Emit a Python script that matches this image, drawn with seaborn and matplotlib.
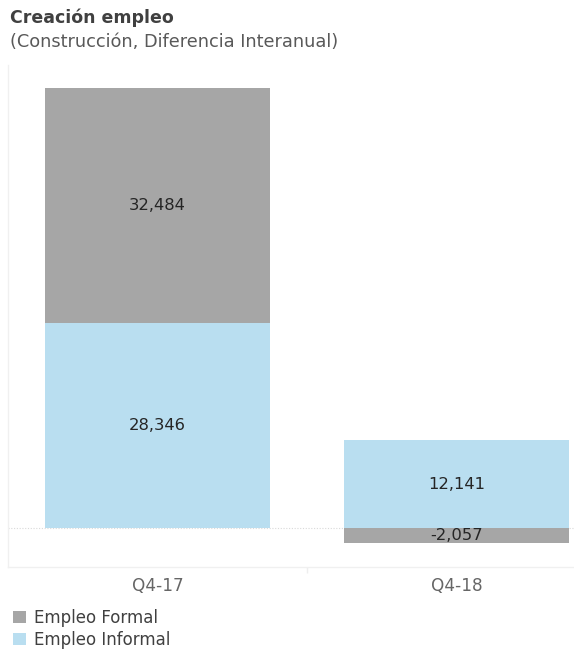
import numpy as np
import pandas as pd
import matplotlib
matplotlib.use("Agg")
import matplotlib.pyplot as plt
import seaborn as sns
from matplotlib.patches import Patch

# Year-over-year change in construction employment
categories = ["Q4-17", "Q4-18"]
formal = [32484, -2057]
informal = [28346, 12141]
series_names = ["Empleo Formal", "Empleo Informal"]

COL_FORMAL = "#a6a6a6"
COL_INFORMAL = "#b9def0"

sns.set_theme(style="white")
plt.rcParams["font.family"] = ["DejaVu Sans"]

fig = plt.figure(figsize=(5.74, 6.52), dpi=100)
W, H = 574, 652
ax = fig.add_axes([8 / W, 1 - 567 / H, 598 / W, (567 - 65) / H])

formal_arr = np.array(formal, dtype=float)
informal_arr = np.array(informal, dtype=float)
# Positive formal values stack on top of informal; negative ones hang below zero
formal_top = np.where(formal_arr > 0, informal_arr + formal_arr, formal_arr)
formal_base = np.where(formal_arr > 0, informal_arr, 0.0)

df_formal = pd.DataFrame({"cat": categories, "val": formal_top})
df_informal = pd.DataFrame({"cat": categories, "val": informal_arr})

sns.barplot(data=df_formal, x="cat", y="val", color=COL_FORMAL, saturation=1,
            width=0.75, ax=ax, errorbar=None, linewidth=0)
sns.barplot(data=df_informal, x="cat", y="val", color=COL_INFORMAL, saturation=1,
            width=0.75, ax=ax, errorbar=None, linewidth=0)

ax.set_xlim(-0.5, 1.5)
ax.set_ylim(-5390, 64030)

# Zero reference line
ax.axhline(0, color="#d9d9d9", lw=0.8, ls=(0, (1, 1.5)), zorder=0)

# Segment labels
for i in range(len(categories)):
    y_f = formal_base[i] + formal_arr[i] / 2
    ax.text(i, y_f, f"{formal[i]:,}", ha="center", va="center",
            fontsize=11.8, color="#252525")
    ax.text(i, informal_arr[i] / 2, f"{informal[i]:,}", ha="center", va="center",
            fontsize=11.8, color="#252525")

# Axes styling
for s in ["top", "right"]:
    ax.spines[s].set_visible(False)
ax.spines["left"].set_color("#f0f0f0")
ax.spines["bottom"].set_color("#f0f0f0")
ax.spines["left"].set_linewidth(1.0)
ax.spines["bottom"].set_linewidth(1.0)
ax.set_yticks([])
ax.set_xlabel("")
ax.set_ylabel("")
ax.set_xticks([0.5], minor=True)
ax.tick_params(axis="x", which="minor", length=4, color="#eeeeee", bottom=True)
ax.tick_params(axis="x", which="major", length=0, pad=7, labelsize=12.2,
               labelcolor="#666666")

# Title block
fig.text(10 / W, 1 - 18 / H, "Creación empleo", fontsize=12.5, fontweight="bold",
         color="#404040", ha="left", va="center")
fig.text(10 / W, 1 - 42 / H, "(Construcción, Diferencia Interanual)", fontsize=12.8,
         color="#595959", ha="left", va="center")

# Legend
handles = [Patch(facecolor=COL_FORMAL, edgecolor="none"),
           Patch(facecolor=COL_INFORMAL, edgecolor="none")]
fig.legend(handles, series_names, loc="upper left",
           bbox_to_anchor=(6 / W, 1 - 602 / H), frameon=False,
           fontsize=12, handlelength=0.8, handleheight=0.8,
           handletextpad=0.45, labelspacing=0.25, borderaxespad=0,
           labelcolor="#404040")

fig.savefig("out.png", dpi=100, facecolor="white")
